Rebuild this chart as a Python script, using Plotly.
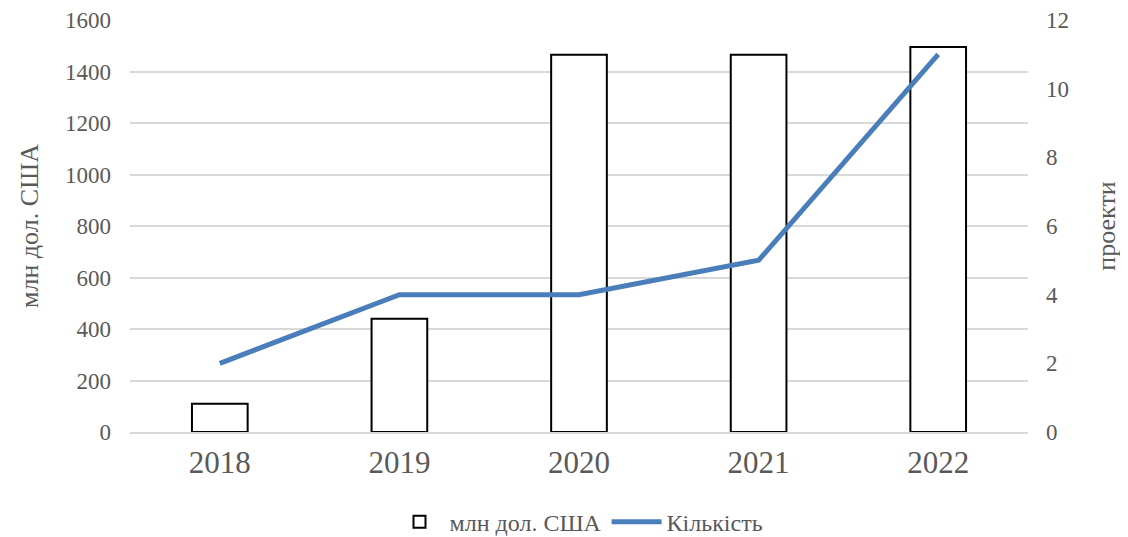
import plotly.graph_objects as go

years = ["2018", "2019", "2020", "2021", "2022"]
usd_mln = [110, 440, 1465, 1465, 1495]
projects = [2, 4, 4, 5, 11]

font_family = "Liberation Serif"
grey = "#595959"

fig = go.Figure()
fig.add_trace(go.Bar(
    x=years, y=usd_mln, name="млн дол. США",
    marker=dict(color="white", line=dict(color="black", width=2)),
    width=0.31, yaxis="y",
))
fig.add_trace(go.Scatter(
    x=years, y=projects, name="Кількість", mode="lines",
    line=dict(color="#4a7ebb", width=5), yaxis="y2",
))

fig.update_layout(
    template="none",
    width=1120, height=529,
    margin=dict(l=122, r=100, t=12, b=105, autoexpand=False),
    paper_bgcolor="white", plot_bgcolor="white",
    font=dict(family=font_family, color=grey),
    showlegend=True,
    legend=dict(orientation="h", x=0.5, xanchor="center", yref="container", y=0.028, yanchor="middle",
                font=dict(size=24, color=grey, family=font_family), traceorder="normal",
                itemwidth=50),
    xaxis=dict(tickfont=dict(size=31, color=grey, family=font_family), showgrid=False,
               showline=True, linecolor="#d9d9d9", linewidth=2, ticks="", automargin=False,
               ticklabelstandoff=2),
    yaxis=dict(range=[0, 1600], dtick=200, tickfont=dict(size=23, color=grey, family=font_family),
               showgrid=True, gridcolor="#d9d9d9", gridwidth=1.5, automargin=False,
               zeroline=False, ticks="", ticklen=0, showline=False, ticklabelstandoff=18,
               title=dict(text="млн дол. США", font=dict(size=26, color=grey, family=font_family), standoff=18)),
    yaxis2=dict(range=[0, 12], dtick=2, overlaying="y", side="right", automargin=False,
                tickfont=dict(size=23, color=grey, family=font_family), showgrid=False, zeroline=False,
                ticks="", showline=False, ticklabelstandoff=17,
                title=dict(text="проекти", font=dict(size=26, color=grey, family=font_family), standoff=28)),
)

fig.write_html("out.html")
